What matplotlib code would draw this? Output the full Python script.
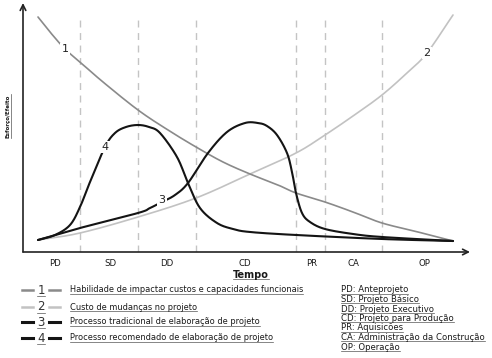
import numpy as np
import matplotlib
matplotlib.use("Agg")
import matplotlib.pyplot as plt
from matplotlib.lines import Line2D

plt.rcParams['font.family'] = ['DejaVu Sans']

W, H = 492, 358

# ---------------- data (x = time units, y = effort units) ----
phase_bounds = [57, 115, 173, 273, 302, 359]
phase_labels = ['PD', 'SD', 'DD', 'CD', 'PR', 'CA', 'OP']
phase_label_x = [32, 87, 144, 222, 289, 330, 401]

c1_x = [15, 27, 42, 57, 80, 115, 145, 173, 200, 227, 255, 273, 302, 330, 359, 395, 430]
c1_y = [235, 220, 203, 190, 170, 142, 122, 105, 90, 78, 67, 59, 50, 40, 29, 20, 11]

c2_x = [15, 57, 115, 173, 227, 273, 302, 330, 359, 385, 404, 430]
c2_y = [12, 19, 35, 54, 78, 99, 117, 136, 157, 180, 199, 237]

c3_x = [15, 57, 115, 127, 139, 152, 165, 185, 204, 222, 235, 244, 254, 264, 269, 273, 279, 287, 302, 330, 359, 430]
c3_y = [12, 24, 39, 44, 50, 57, 69, 99, 120, 129, 129, 126, 117, 99, 80, 59, 39, 30, 23, 18, 15, 11]

c4_x = [15, 32, 47, 57, 67, 82, 92, 103, 115, 126, 137, 154, 165, 177, 194, 210, 227, 273, 359, 430]
c4_y = [12, 17, 27, 45, 70, 105, 119, 125, 127, 125, 119, 95, 69, 44, 29, 23, 20, 17, 13, 11]

curve_label_pos = {'1': (42, 203), '2': (404, 199), '3': (139, 52), '4': (82, 105)}

legend_nums = ['1', '2', '3', '4']
legend_texts = ['Habilidade de impactar custos e capacidades funcionais',
                'Custo de mudanças no projeto',
                'Processo tradicional de elaboração de projeto',
                'Processo recomendado de elaboração de projeto']
legend_colors = ['#8a8a8a', '#c2c2c2', '#141414', '#141414']

abbrev_texts = ['PD: Anteprojeto', 'SD: Projeto Básico', 'DD: Projeto Executivo',
                'CD: Projeto para Produção', 'PR: Aquisicões',
                'CA: Administração da Construção', 'OP: Operação']


def catmull(xs, ys, n=24):
    P = np.column_stack([xs, ys]).astype(float)
    P = np.vstack([P[0] * 2 - P[1], P, P[-1] * 2 - P[-2]])
    out = []
    for i in range(1, len(P) - 2):
        p0, p1, p2, p3 = P[i - 1], P[i], P[i + 1], P[i + 2]
        t = np.linspace(0, 1, n, endpoint=False)[:, None]
        seg = 0.5 * ((2 * p1) + (-p0 + p2) * t + (2 * p0 - 5 * p1 + 4 * p2 - p3) * t ** 2
                     + (-p0 + 3 * p1 - 3 * p2 + p3) * t ** 3)
        out.append(seg)
    out.append(P[-2][None, :])
    out = np.vstack(out)
    return out[:, 0], out[:, 1]


fig = plt.figure(figsize=(W / 100, H / 100), dpi=100)
renderer = fig.canvas.get_renderer()

L, R, T, B = 23, 470, 3, 252
ax = fig.add_axes([L / W, 1 - B / H, (R - L) / W, (B - T) / H])
ax.set_xlim(0, R - L)
ax.set_ylim(0, B - T)
for s in ax.spines.values():
    s.set_visible(False)
ax.set_xticks([])
ax.set_yticks([])

ax.annotate('', xy=(1.0, 0), xytext=(0, 0), xycoords='axes fraction',
            arrowprops=dict(arrowstyle='->', lw=1.2, color='#222', mutation_scale=10,
                            shrinkA=0, shrinkB=0))
ax.annotate('', xy=(0, 1.0), xytext=(0, 0), xycoords='axes fraction',
            arrowprops=dict(arrowstyle='->', lw=1.2, color='#222', mutation_scale=10,
                            shrinkA=0, shrinkB=0))

for xb in phase_bounds:
    ax.plot([xb, xb], [0, 236], color='#c4c4c4', lw=1.0, ls=(0, (5, 4)), zorder=1)

for xs, ys, col, lw, z in [(c1_x, c1_y, '#8a8a8a', 1.2, 3), (c2_x, c2_y, '#c2c2c2', 1.2, 2),
                           (c3_x, c3_y, '#141414', 1.5, 4), (c4_x, c4_y, '#141414', 1.5, 5)]:
    sx, sy = catmull(xs, ys)
    ax.plot(sx, sy, color=col, lw=lw, solid_capstyle='round', zorder=z)

for k, (lx, ly) in curve_label_pos.items():
    ax.text(lx, ly, k, fontsize=8, ha='center', va='center', color='#222', zorder=10,
            bbox=dict(facecolor='white', edgecolor='none', pad=0.8))

for lab, x in zip(phase_labels, phase_label_x):
    ax.text(x, -11, lab, fontsize=6.2, ha='center', va='center', color='#1a1a1a', clip_on=False)


def fx(px):
    return px / W


def fy(py):
    return 1 - py / H


def fit(t, target_px, horizontal=True):
    bb = t.get_window_extent(renderer)
    size = bb.width if horizontal else bb.height
    t.set_fontsize(t.get_fontsize() * target_px / size)
    return t.get_fontsize()


underline = []
t = fig.text(fx(251), fy(275), 'Tempo', fontsize=6, fontweight='bold', ha='center',
             va='center', color='#1a1a1a')
fit(t, 36)
underline.append(t)
t = fig.text(fx(8), fy(116), 'Esforço/Efeito', fontsize=5, fontweight='bold', ha='center',
             va='center', rotation=90, color='#1a1a1a', family=['Liberation Sans Narrow', 'DejaVu Sans'])
fit(t, 44, horizontal=False)
underline.append(t)

rows_left = [290, 307, 322, 338]
lt = []
for num, txt, col, py, i in zip(legend_nums, legend_texts, legend_colors, rows_left, range(4)):
    lw = 1.8 if i < 2 else 2.2
    fig.add_artist(Line2D([fx(22), fx(33)], [fy(py), fy(py)], color=col, lw=lw))
    fig.add_artist(Line2D([fx(49), fx(60)], [fy(py), fy(py)], color=col, lw=lw))
    tn = fig.text(fx(41), fy(py), num, fontsize=8.5, ha='center', va='center', color='#333')
    underline.append(tn)
    tt = fig.text(fx(70), fy(py), txt, fontsize=6, ha='left', va='center', color='#1a1a1a')
    lt.append(tt)
    underline.append(tt)
fs = fit(lt[0], 235)
for tt in lt:
    tt.set_fontsize(fs)

rows_right = [290, 299.5, 309, 318.5, 328, 337.5, 347]
rt = []
for txt, py in zip(abbrev_texts, rows_right):
    tt = fig.text(fx(341), fy(py), txt, fontsize=6, ha='left', va='center', color='#1a1a1a')
    rt.append(tt)
    underline.append(tt)
fs = fit(rt[5], 143)
for tt in rt:
    tt.set_fontsize(fs)

fig.canvas.draw()
for t in underline:
    bb = t.get_window_extent(renderer)
    if t.get_rotation() == 90:
        xpix = bb.x1 + 0.5
        fig.add_artist(Line2D([xpix / W, xpix / W], [bb.y0 / H, bb.y1 / H], color='#555', lw=0.5))
    else:
        ypix = bb.y0 + 1.0
        fig.add_artist(Line2D([bb.x0 / W, bb.x1 / W], [ypix / H, ypix / H], color='#555', lw=0.5))

fig.savefig('out.png', dpi=100)
